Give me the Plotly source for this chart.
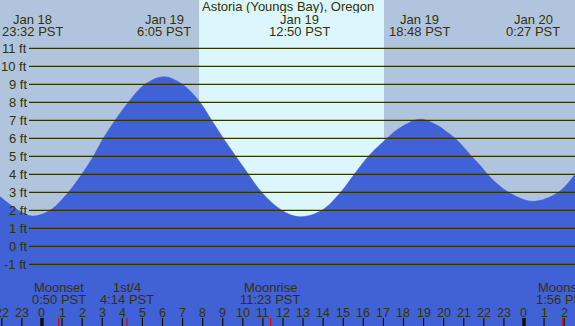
import plotly.graph_objects as go

# ---- data (hours since Jan 19 00:00 PST, water level in ft) ----
tide_hours = [-2.09, -1.18, -0.467, 0.40, 1.31, 1.98, 2.56, 3.05, 3.64, 4.30, 5.13,
              6.083, 7.04, 7.87, 8.45, 9.03, 9.65, 10.28, 10.94, 11.94, 12.833,
              13.94, 14.87, 15.55, 16.25, 17.18, 17.66, 18.80, 19.66, 20.15, 20.57,
              20.98, 21.31, 21.81, 22.15, 22.64, 23.31, 24.45, 25.71, 26.54]
tide_ft = [2.76, 2.0, 1.68, 2.0, 3.0, 4.0, 5.0, 6.0, 7.0, 8.0, 9.0,
           9.42, 8.96, 8.0, 7.0, 6.0, 5.0, 4.0, 3.0, 2.0, 1.64,
           2.0, 3.0, 4.0, 5.0, 6.0, 6.46, 7.06, 6.74, 6.37, 6.0,
           5.53, 5.1, 4.5, 4.05, 3.5, 2.95, 2.5, 3.0, 4.0]

extreme_hours = [-0.467, 6.083, 12.833, 18.80, 24.45]
extreme_dates = ["Jan 18", "Jan 19", "Jan 19", "Jan 19", "Jan 20"]
extreme_times = ["23:32 PST", "6:05 PST", "12:50 PST", "18:48 PST", "0:27 PST"]

moon_hours = [0.833, 4.233, 11.383, 25.933]
moon_events = ["Moonset", "1st/4", "Moonrise", "Moonset"]
moon_times = ["0:50 PST", "4:14 PST", "11:23 PST", "1:56 PST"]

hour_ticks = list(range(-2, 27))
hour_labels = [str(h % 24) for h in hour_ticks]
ft_levels = list(range(-1, 12))
ft_labels = [f"{v} ft" for v in ft_levels]

sunrise_h = 7.82
sunset_h = 17.03
title_text = "Astoria (Youngs Bay), Oregon"

# ---- style ----
W, H = 575, 326
NIGHT = "#b0c4de"
DAY = "#dcf6fe"
WATER = "#4161d6"
INK = "#333300"
FONT = "Liberation Sans"
FS = 13

X_RANGE = [-2.091, 26.54]
Y_RANGE = [-4.428, 13.683]

def py(px):
    return 1 - px / H

fig = go.Figure()

# baseline for the water fill
fig.add_trace(go.Scatter(x=[X_RANGE[0] - 1, X_RANGE[1] + 1], y=[-20, -20],
                         mode="lines", line=dict(width=0), hoverinfo="skip",
                         showlegend=False))
fig.add_trace(go.Scatter(x=tide_hours, y=tide_ft, mode="lines",
                         line=dict(color=WATER, width=0.5, shape="spline", smoothing=1),
                         fill="tonexty", fillcolor=WATER, hoverinfo="skip",
                         showlegend=False))

shapes = []
# daylight band
shapes.append(dict(type="rect", xref="x", yref="paper", x0=sunrise_h, x1=sunset_h,
                   y0=0, y1=1, fillcolor=DAY, line=dict(width=0), layer="below"))
# level lines
for v in ft_levels:
    shapes.append(dict(type="line", xref="paper", yref="y", x0=29 / W, x1=1,
                       y0=v, y1=v, line=dict(color=INK, width=1.3), layer="above"))
# hour ticks
for h in hour_ticks:
    thick = (h % 24 == 0)
    shapes.append(dict(type="line", xref="x", yref="paper", x0=h, x1=h,
                       y0=0, y1=py(318), line=dict(color="#111100", width=3.5 if thick else 1.2),
                       layer="above"))
# moon event ticks
for h in moon_hours:
    shapes.append(dict(type="line", xref="x", yref="paper", x0=h, x1=h,
                       y0=0, y1=py(318), line=dict(color="#dd0000", width=1.2),
                       layer="above"))

ann = []
font = dict(family=FONT, size=FS, color=INK)
hfont = dict(family=FONT, size=12.5, color=INK)
common = dict(showarrow=False, borderpad=0, height=13, valign="middle")
ann.append(dict(text=title_text, xref="paper", yref="paper", x=0.5, y=py(7),
                xanchor="center", yanchor="middle", font=font, **common))
for h, d, t in zip(extreme_hours, extreme_dates, extreme_times):
    ann.append(dict(text=d, xref="x", yref="paper", x=h, y=py(19), xanchor="center",
                    yanchor="middle", font=font, **common))
    ann.append(dict(text=t, xref="x", yref="paper", x=h, y=py(32), xanchor="center",
                    yanchor="middle", font=font, **common))
for v, lab in zip(ft_levels, ft_labels):
    ann.append(dict(text=lab, xref="paper", yref="y", x=27.5 / W, y=v, xanchor="right",
                    yanchor="middle", font=font, **common))
for h, e, t in zip(moon_hours, moon_events, moon_times):
    ann.append(dict(text=e, xref="x", yref="paper", x=h, y=py(287), xanchor="center",
                    yanchor="middle", font=font, **common))
    ann.append(dict(text=t, xref="x", yref="paper", x=h, y=py(299.5), xanchor="center",
                    yanchor="middle", font=font, **common))
for h, lab in zip(hour_ticks, hour_labels):
    ann.append(dict(text=lab, xref="x", yref="paper", x=h, y=py(312), xanchor="center",
                    yanchor="middle", font=hfont, **common))

fig.update_layout(
    width=W, height=H, margin=dict(l=0, r=0, t=0, b=0),
    paper_bgcolor=NIGHT, plot_bgcolor=NIGHT,
    xaxis=dict(range=X_RANGE, visible=False, fixedrange=True),
    yaxis=dict(range=Y_RANGE, visible=False, fixedrange=True),
    shapes=shapes, annotations=ann, showlegend=False,
)

fig.write_html("out.html", config=dict(displayModeBar=False),
               post_script="document.body.style.margin='0';document.body.style.padding='0';")
